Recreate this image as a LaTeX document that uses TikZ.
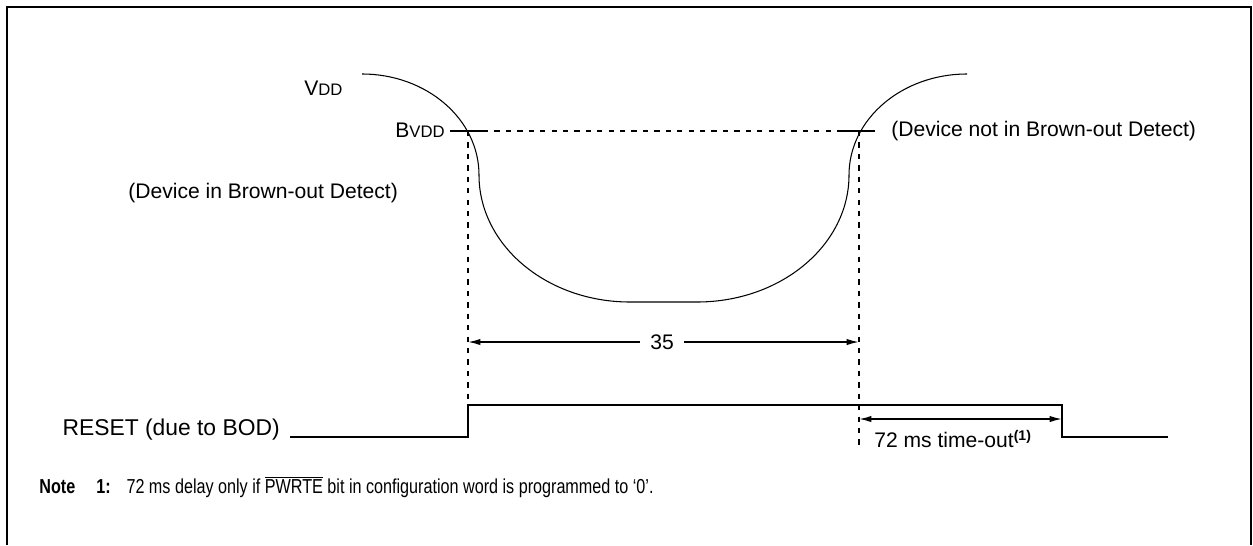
\documentclass[tikz,border=0pt]{standalone}
\usepackage{fontspec}
\setmainfont{Liberation Sans}
\newfontfamily\narrowsans[FakeStretch=0.8]{Liberation Sans}
\usetikzlibrary{arrows.meta}
\begin{document}
\begin{tikzpicture}[x=0.02cm,y=-0.02cm,
  lbl/.style={font=\fontsize{12}{14}\selectfont, inner sep=0pt},
  notefont/.style={font=\narrowsans\fontsize{11.5}{13}\selectfont, inner sep=0pt},
  curve/.style={line width=0.6pt},
  wave/.style={line width=1.1pt},
  dsh/.style={line width=1.1pt, dash pattern=on 3pt off 3.5pt},
  dim/.style={line width=0.9pt, {Latex[length=7pt,width=3.6pt]}-{Latex[length=7pt,width=3.6pt]}}
]
\useasboundingbox (0,0) rectangle (1253,545);
% frame (open at the bottom)
\draw[line width=1.1pt] (7,545) -- (7,7) -- (1251,7) -- (1251,545);

% supply curve
\draw[curve] (362,74) arc[start angle=-90, end angle=0, x radius=117, y radius=101]
  arc[start angle=180, end angle=90, x radius=151, y radius=127]
  -- (697,302)
  arc[start angle=90, end angle=0, x radius=152, y radius=127]
  arc[start angle=180, end angle=270, x radius=118, y radius=101];

% BVDD level
\coordinate (bl1) at (450,131);
\coordinate (bl2) at (483,131);
\coordinate (br1) at (842,131);
\coordinate (br2) at (875,131);
\draw[wave] (bl1) -- (bl2);
\draw[wave] (br1) -- (br2);
\draw[dsh] (bl2) -- (br1);

% vertical dashed markers
\coordinate (vl1) at (468,131);
\coordinate (vl2) at (468,437);
\coordinate (vr1) at (859,131);
\coordinate (vr2) at (859,448);
\draw[dsh] (vl1) -- (vl2);
\draw[dsh] (vr1) -- (vr2);

% 35 dimension
\coordinate (d35l) at (468,342);
\coordinate (d35r) at (859,342);
\draw[dim] (d35l) -- (d35r);
\node[lbl, fill=white, inner xsep=6pt, inner ysep=1pt] (n35) at (662,342) {35};

% RESET waveform
\coordinate (w0) at (290,437);
\coordinate (w1) at (468,437);
\coordinate (w2) at (468,405);
\coordinate (w3) at (1062,405);
\coordinate (w4) at (1062,437);
\coordinate (w5) at (1168,437);
\draw[wave] (w0) -- (w1) -- (w2) -- (w3) -- (w4) -- (w5);

% 72 ms dimension
\coordinate (d72l) at (859,419);
\coordinate (d72r) at (1062,419);
\draw[dim] (d72l) -- (d72r);

% labels
\node[lbl, anchor=west] (vdd) at (304,88) {V{\fontsize{9.5}{10}\selectfont DD}};
\node[lbl, anchor=east] (bvdd) at (445,130) {B{\fontsize{9.5}{10}\selectfont VDD}};
\node[lbl, anchor=west] (devin) at (128,193) {(Device in Brown-out Detect)};
\node[lbl, anchor=west] (devnot) at (891,131) {(Device not in Brown-out Detect)};
\node[lbl, anchor=east, font=\fontsize{13}{15}\selectfont] (reset) at (280,430) {RESET (due to BOD)};
\node[lbl, anchor=west] (tout) at (874,439) {72 ms time-out\textsuperscript{\bfseries(1)}};
\node[notefont, anchor=west] (note) at (39,487) {\textbf{Note}\hspace*{12pt}\textbf{1:}\hspace*{9pt}72 ms delay only if $\overline{\hbox{PWRTE}}$ bit in configuration word is programmed to ‘0’.};
\end{tikzpicture}
\end{document}
